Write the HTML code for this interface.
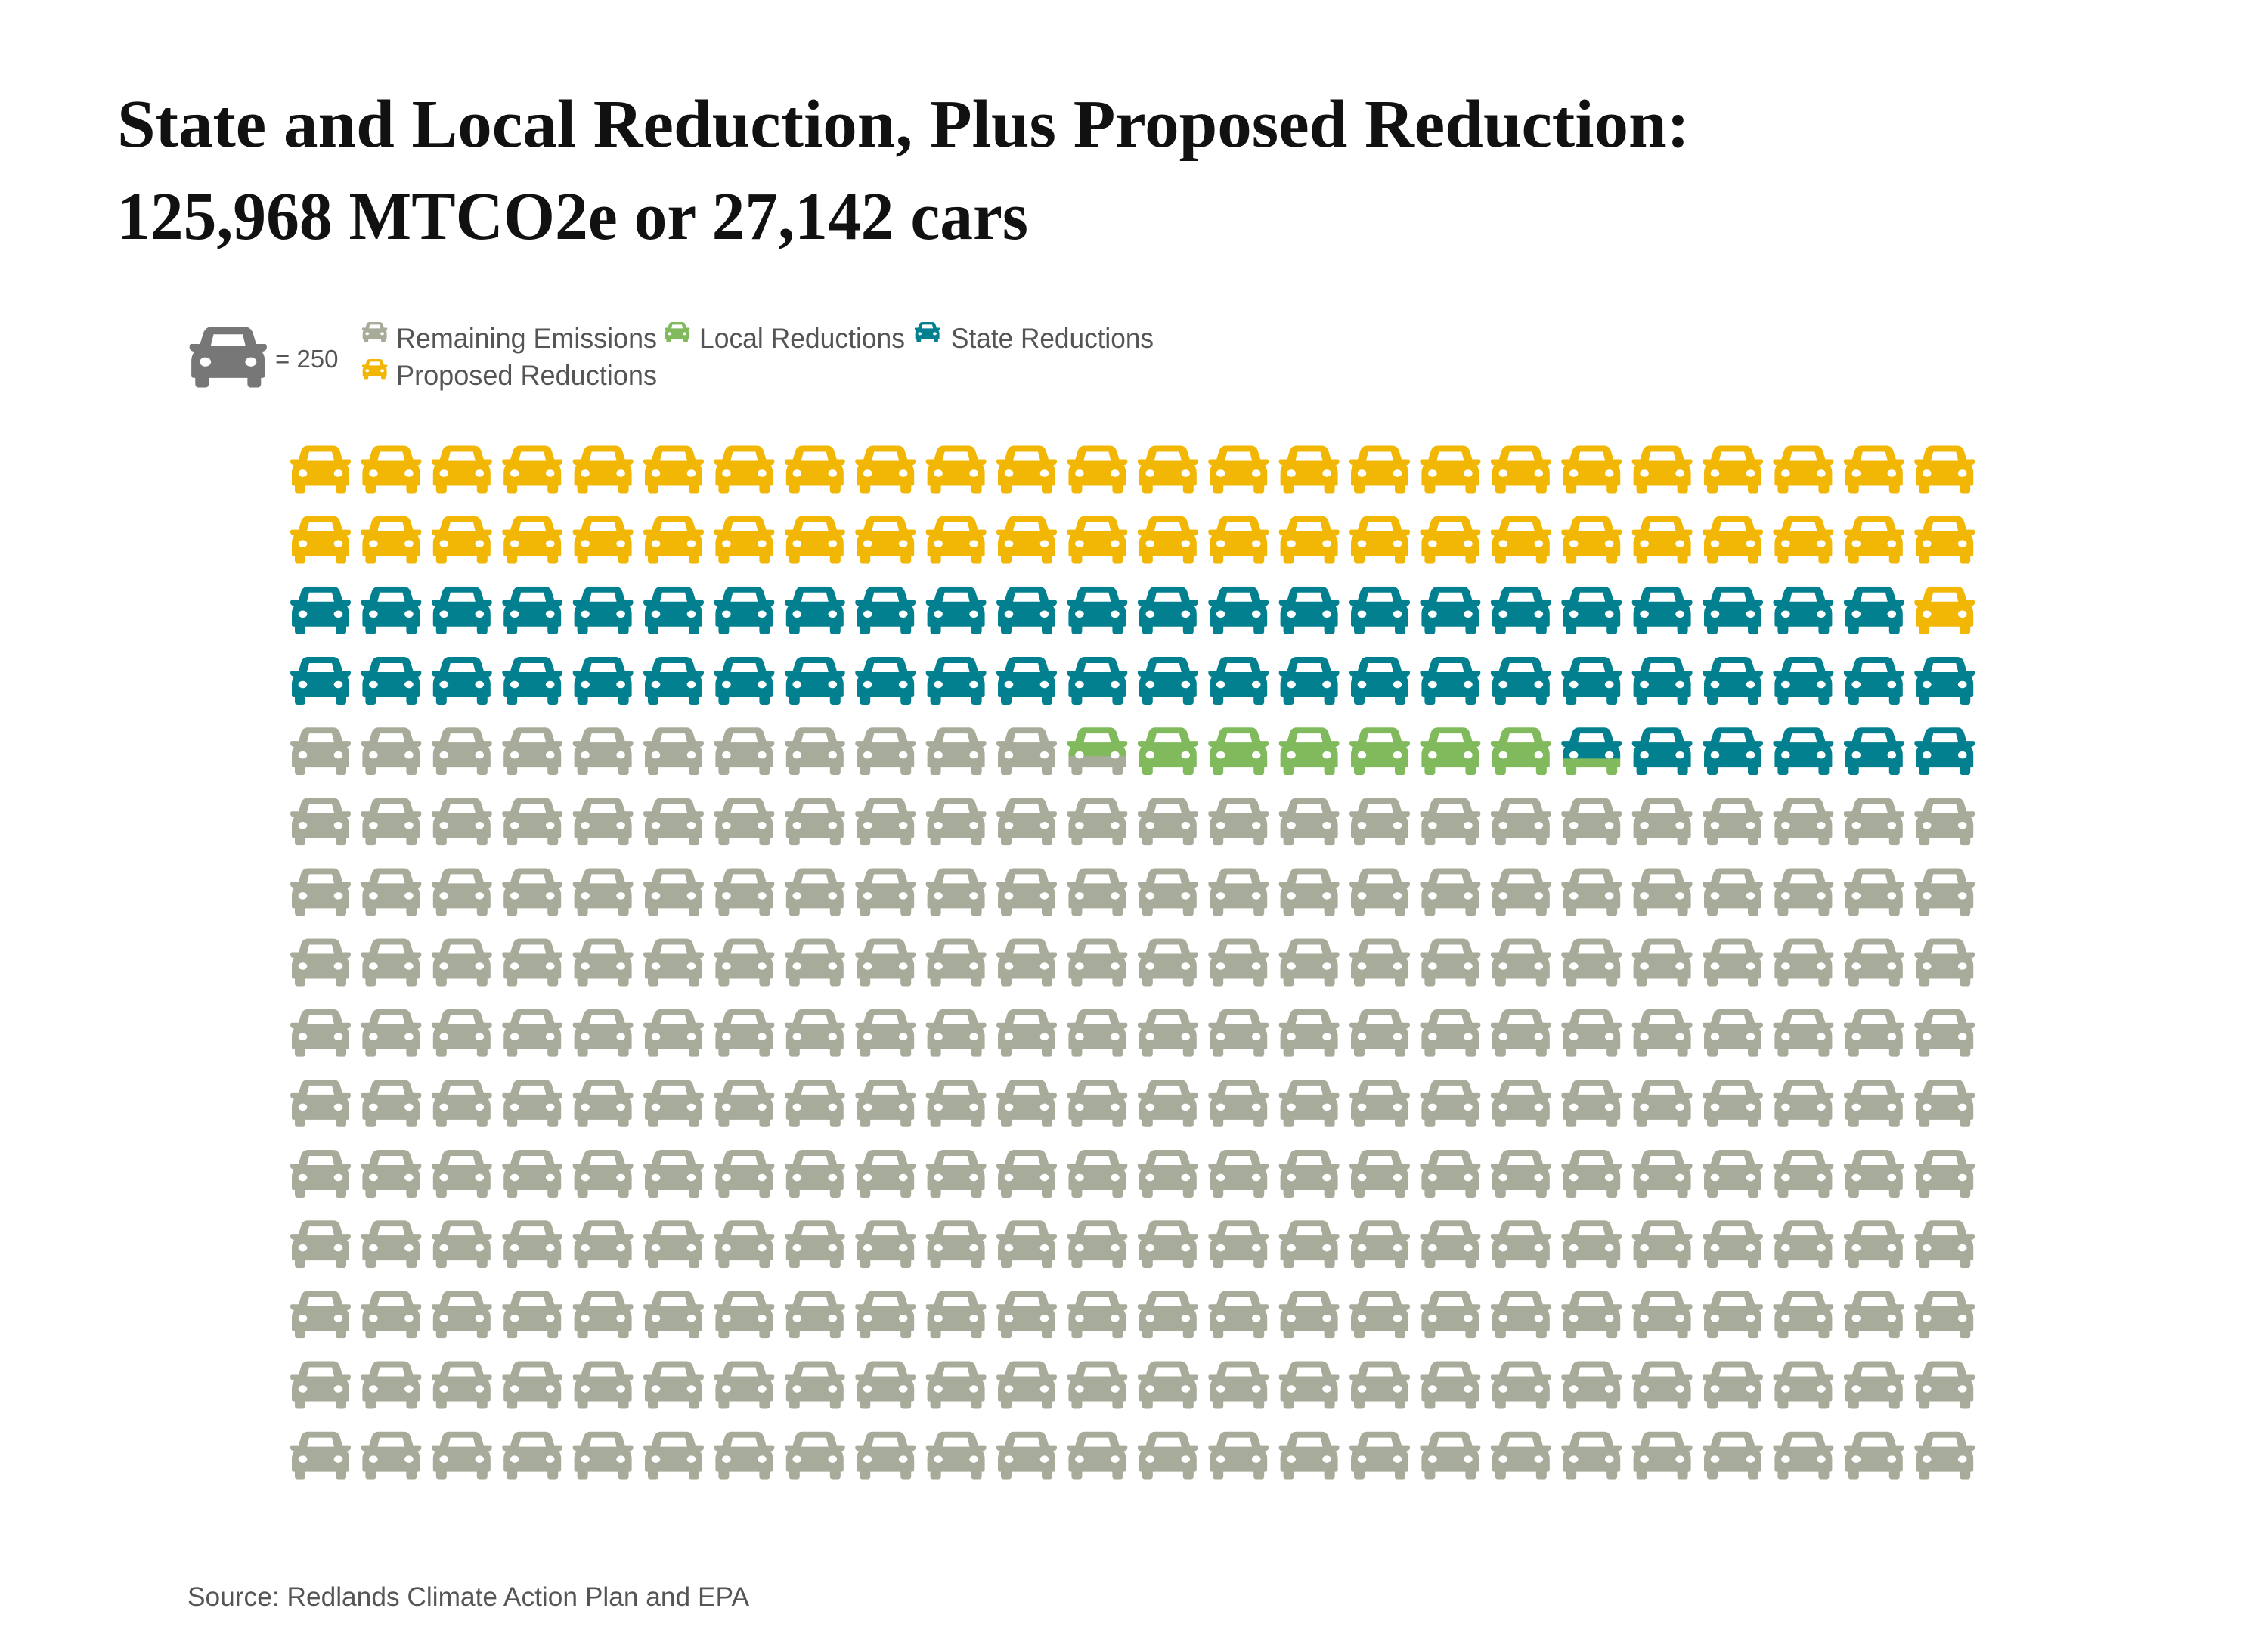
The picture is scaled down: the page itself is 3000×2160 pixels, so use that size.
<!DOCTYPE html>
<html><head><meta charset="utf-8"><style>
html,body{margin:0;padding:0;background:#fff;width:3000px;height:2160px;overflow:hidden}
svg{display:block}
</style></head><body>
<svg id="chart" width="3000" height="2160" viewBox="0 0 3000 2160" xmlns="http://www.w3.org/2000/svg">
<defs>
<clipPath id="car" clipPathUnits="userSpaceOnUse">
<path clip-rule="evenodd" d="M26 0 H58 Q66 0 68 8 L71 18 H80 Q82 18 82 21 Q82 25 77 26 Q80 30 80 36 V51 Q80 53 77 53 H76 V59 Q76 63 72 63 H66 Q62 63 62 59 V53 H22 V59 Q22 63 18 63 H12 Q8 63 8 59 V53 H7 Q4 53 4 51 V36 Q4 30 7 26 Q2 25 2 21 Q2 18 4 18 H13 L16 8 Q18 0 26 0 Z
M27 8 H57 L60 20 H24 Z
M13 35 A5.5 4.5 0 1 0 24 38 A5.5 4.5 0 1 0 13 35 Z
M60 38 A5.5 4.5 0 1 0 71 35 A5.5 4.5 0 1 0 60 38 Z"/>
</clipPath>
</defs>
<g font-family="'Liberation Serif', serif" font-weight="bold" fill="#111">
<text x="155" y="194" font-size="90" textLength="2080" lengthAdjust="spacingAndGlyphs">State and Local Reduction, Plus Proposed Reduction:</text>
<text x="155" y="316" font-size="90" textLength="1205" lengthAdjust="spacingAndGlyphs">125,968 MTCO2e or 27,142 cars</text>
</g>
<g font-family="'Liberation Sans', sans-serif" fill="#555">
<g transform="translate(248,432) scale(1.28)"><g clip-path="url(#car)"><rect width="84" height="63" fill="#777"/></g></g>
<text x="364" y="486" font-size="33">= 250</text>
<g id="legendItems"></g>
</g>
<g id="grid"></g>
<text x="248" y="2146" font-family="'Liberation Sans', sans-serif" font-size="35" fill="#555" textLength="743" lengthAdjust="spacingAndGlyphs" transform="translate(0,-22)">Source: Redlands Climate Action Plan and EPA</text>
</svg>
<script>
const categories = ['Remaining Emissions', 'Local Reductions', 'State Reductions', 'Proposed Reductions'];
const carCounts = [251.4, 6.95, 52.65, 49];
const colors = ['#a7ab9a', '#80ba5c', '#03808f', '#f2b705'];
const nCols = 24, nRows = 15;

const NS = 'http://www.w3.org/2000/svg';
const colX = c => 424 - 42 + c * 93.4;
const rowY = r => 621 - 31.5 + r * 93.15;
const CW = 84, CH = 63;

const legendPos = [[478, 452, 524, 345], [878, 452, 925, 272], [1209, 452, 1258, 268], [478, 501, 524, 345]];
const lg = document.getElementById('legendItems');
categories.forEach((name, i) => {
  const [ix, y, tx, tw] = legendPos[i];
  const g = document.createElementNS(NS, 'g');
  
  
  const icon = document.createElementNS(NS, 'g');
  icon.setAttribute('transform', `translate(${ix},${y - 26}) scale(0.42)`);
  const ic = document.createElementNS(NS, 'g');
  ic.setAttribute('clip-path', 'url(#car)');
  const r = document.createElementNS(NS, 'rect');
  r.setAttribute('width', CW); r.setAttribute('height', CH); r.setAttribute('fill', colors[i]);
  ic.appendChild(r); icon.appendChild(ic); g.appendChild(icon);
  const t = document.createElementNS(NS, 'text');
  
  
  t.setAttribute('x', tx); t.setAttribute('y', y + 8);
  t.setAttribute('font-size', '37');
  t.setAttribute('textLength', tw); t.setAttribute('lengthAdjust', 'spacingAndGlyphs');
  t.textContent = name;
  g.appendChild(t); lg.appendChild(g);
});

const grid = document.getElementById('grid');
const cum = []; let acc = 0;
carCounts.forEach(v => { cum.push([acc, acc + v]); acc += v; });
for (let k = 0; k < nRows * nCols; k++) {
  const rFromBottom = Math.floor(k / nCols), c = k % nCols;
  const r = nRows - 1 - rFromBottom;
  const g = document.createElementNS(NS, 'g');
  
  
  g.setAttribute('transform', `translate(${colX(c)},${rowY(r)})`);
  g.setAttribute('clip-path', 'url(#car)');
  cum.forEach(([a, b], i) => {
    const lo = Math.max(a, k), hi = Math.min(b, k + 1);
    if (hi <= lo) return;
    const rect = document.createElementNS(NS, 'rect');
    
    
    rect.setAttribute('x', 0); rect.setAttribute('width', CW);
    rect.setAttribute('y', CH * (1 - (hi - k)));
    rect.setAttribute('height', CH * (hi - lo) + 0.3);
    rect.setAttribute('fill', colors[i]);
    g.appendChild(rect);
  });
  grid.appendChild(g);
}
</script>
</body></html>
